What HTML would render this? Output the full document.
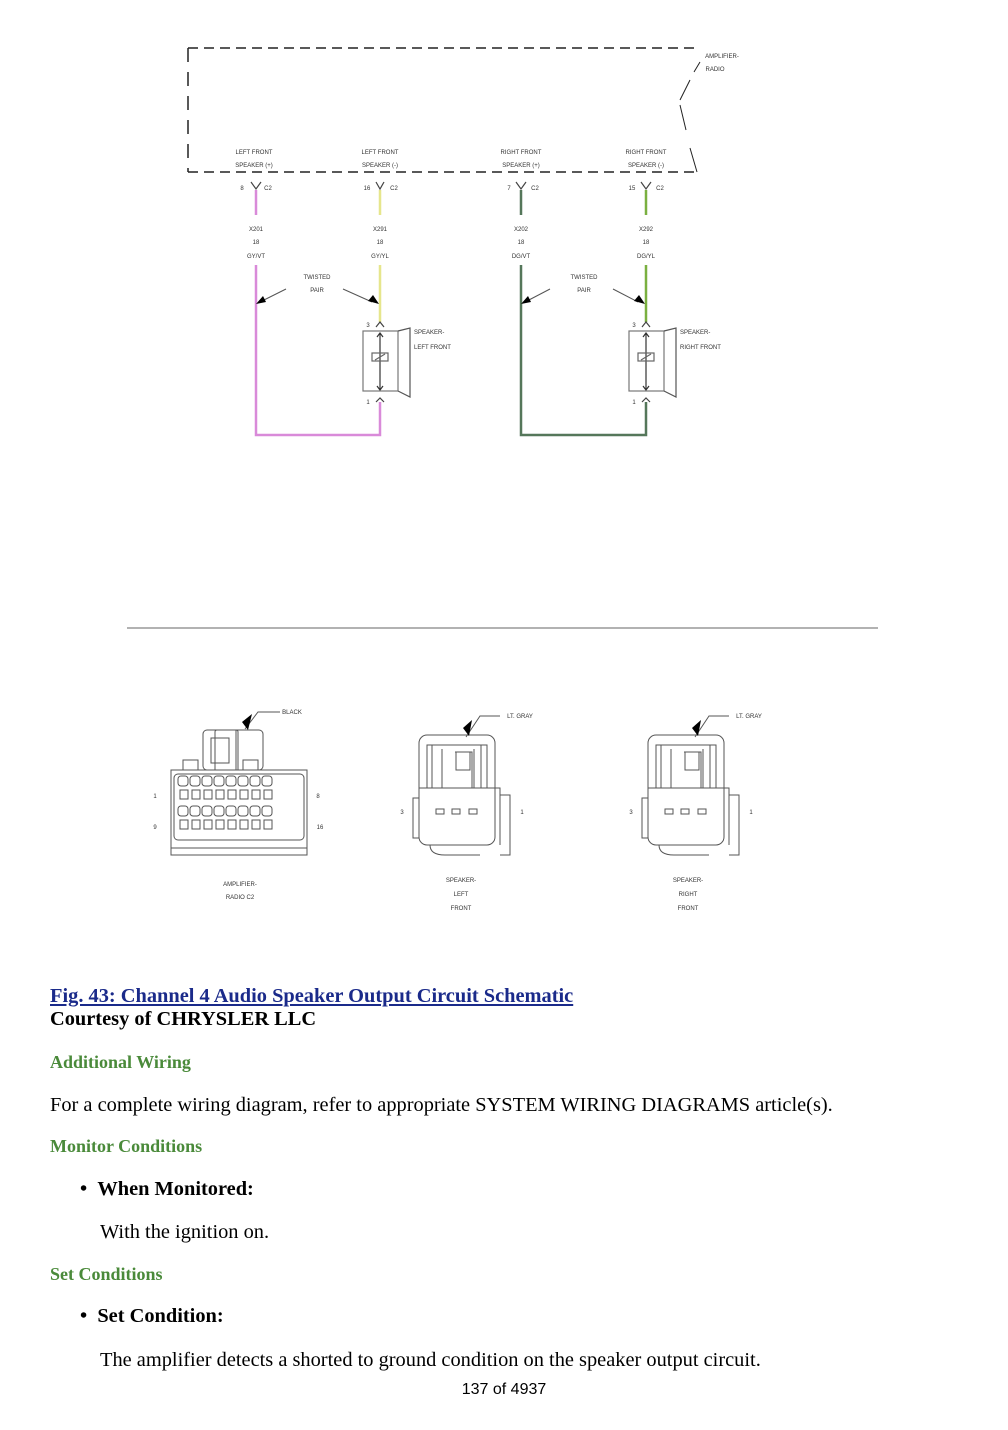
<!DOCTYPE html>
<html><head><meta charset="utf-8"><style>
body{margin:0;background:#fff;width:1008px;height:1430px;overflow:hidden;position:relative;font-family:"Liberation Serif",serif;}
.t{position:absolute;left:50px;font-size:20.4px;color:#000;white-space:nowrap}
.h{position:absolute;left:50px;font-size:18px;font-weight:bold;color:#4a8a3a}
</style></head><body>
<svg width="1008" height="960" style="position:absolute;left:0;top:0" font-family="Liberation Sans, sans-serif">
<g fill="none" stroke="#222" stroke-width="1.5">
<path d="M188 48H695" stroke-dasharray="10 6"/>
<path d="M188 48V172" stroke-dasharray="14 10"/>
<path d="M188 172H697" stroke-dasharray="10 6"/>
<path d="M697 172L690 148M686 130L680 105M680 100L690 80M694 72L700 62" stroke-width="1"/>
</g>
<g font-size="6" fill="#333" text-anchor="middle">
<text x="722" y="58">AMPLIFIER-</text><text x="715" y="71">RADIO</text>
<text x="254" y="154">LEFT FRONT</text><text x="254" y="167">SPEAKER (+)</text>
<text x="380" y="154">LEFT FRONT</text><text x="380" y="167">SPEAKER (-)</text>
<text x="521" y="154">RIGHT FRONT</text><text x="521" y="167">SPEAKER (+)</text>
<text x="646" y="154">RIGHT FRONT</text><text x="646" y="167">SPEAKER (-)</text>
<text x="317" y="279">TWISTED</text><text x="317" y="292">PAIR</text>
<text x="584" y="279">TWISTED</text><text x="584" y="292">PAIR</text>
</g>
<g fill="none" stroke-width="2.5">
<path d="M256 190V215M256 265V435H380V402" stroke="#d98ad9"/>
<path d="M380 190V215M380 265V322" stroke="#e6e68c"/>
<path d="M521 190V215M521 265V435H646V402" stroke="#55775a"/>
<path d="M646 190V215M646 265V322" stroke="#7ab040"/>
</g>
<g font-size="6" fill="#333" text-anchor="middle">
<text x="256" y="231">X201</text><text x="256" y="244">18</text><text x="256" y="258">GY/VT</text>
<text x="380" y="231">X291</text><text x="380" y="244">18</text><text x="380" y="258">GY/YL</text>
<text x="521" y="231">X202</text><text x="521" y="244">18</text><text x="521" y="258">DG/VT</text>
<text x="646" y="231">X292</text><text x="646" y="244">18</text><text x="646" y="258">DG/YL</text>
<text x="242" y="190">8</text><text x="268" y="190">C2</text>
<text x="367" y="190">16</text><text x="394" y="190">C2</text>
<text x="509" y="190">7</text><text x="535" y="190">C2</text>
<text x="632" y="190">15</text><text x="660" y="190">C2</text>
<text x="368" y="327">3</text><text x="368" y="404">1</text>
<text x="634" y="327">3</text><text x="634" y="404">1</text>
</g>
<g fill="none" stroke="#444" stroke-width="1.2">
<path d="M251 182L256 189L261 182M376 182L380 189L384 182M516 182L521 189L526 182M641 182L646 189L651 182"/>
<path d="M376 327L380 322L384 327M376 402L380 398L384 402M642 327L646 322L650 327M642 402L646 398L650 402"/>
<rect x="363" y="331" width="35" height="60" stroke="#777"/>
<path d="M398 331L410 328V397L398 391" stroke="#555"/>
<path d="M380 333V390M377 337L380 333L383 337M377 386L380 390L383 386" stroke="#333"/>
<rect x="372" y="353" width="16" height="8" stroke="#666"/>
<path d="M375 360L385 354" stroke="#666"/>
<rect x="629" y="331" width="35" height="60" stroke="#777"/>
<path d="M664 331L676 328V397L664 391" stroke="#555"/>
<path d="M646 333V390M643 337L646 333L649 337M643 386L646 390L649 386" stroke="#333"/>
<rect x="638" y="353" width="16" height="8" stroke="#666"/>
<path d="M641 360L651 354" stroke="#666"/>
<path d="M286 289L262 301M343 289L372 302M550 289L527 301M613 289L638 302" stroke="#555" stroke-width="1"/>
</g>
<g fill="#000">
<path d="M256 304L263 296L266 302Z"/><path d="M379 304L368 301L373 295Z"/>
<path d="M521 304L528 296L531 302Z"/><path d="M645 304L634 301L639 295Z"/>
</g>
<g font-size="6" fill="#333">
<text x="414" y="334">SPEAKER-</text><text x="414" y="349">LEFT FRONT</text>
<text x="680" y="334">SPEAKER-</text><text x="680" y="349">RIGHT FRONT</text>
</g>
<line x1="127" y1="628" x2="878" y2="628" stroke="#999" stroke-width="1.5"/>
<g fill="none" stroke="#555" stroke-width="1">
<rect x="171" y="770" width="136" height="85"/>
<path d="M171 848H307"/>
<path d="M215 770V732Q215 730 217 730H236V770" /><path d="M216 730H236Q238 730 238 732V770"/>
<rect x="203" y="730" width="60" height="40" rx="4"/>
<rect x="211" y="738" width="18" height="25"/>
<rect x="183" y="760" width="15" height="10"/><rect x="243" y="760" width="15" height="10"/>
<rect x="174" y="774" width="130" height="66" rx="4"/>
<g id="pins">
<rect x="178" y="776" width="10" height="10" rx="3"/><rect x="180" y="790" width="8" height="9"/>
</g>
<use href="#pins" x="12"/><use href="#pins" x="24"/><use href="#pins" x="36"/><use href="#pins" x="48"/><use href="#pins" x="60"/><use href="#pins" x="72"/><use href="#pins" x="84"/>
<use href="#pins" y="30"/><use href="#pins" x="12" y="30"/><use href="#pins" x="24" y="30"/><use href="#pins" x="36" y="30"/><use href="#pins" x="48" y="30"/><use href="#pins" x="60" y="30"/><use href="#pins" x="72" y="30"/><use href="#pins" x="84" y="30"/>
<path d="M245 729L258 712H280"/>
<g id="sp">
<rect x="419" y="735" width="76" height="110" rx="8"/>
<path d="M419 788H500V845M427 788V745H487V788M432 745V788M481 745V788M455 752H472V788M442 749V788M474 749V788"/>
<rect x="456" y="752" width="14" height="18"/>
<rect x="436" y="809" width="8" height="5"/><rect x="452" y="809" width="8" height="5"/><rect x="469" y="809" width="8" height="5"/>
<path d="M413 798H419V838H413ZM500 795H510V855H500M430 845Q430 855 445 855H480"/>
<path d="M466 737L480 716H500"/>
</g>
<use href="#sp" x="229"/>
</g>
<g fill="#000"><path d="M242 722L252 714L248 730Z"/><path d="M463 728L472 720L469 736Z"/><path d="M692 728L701 720L698 736Z"/></g>
<g font-size="6" fill="#333" text-anchor="middle">
<text x="292" y="714">BLACK</text><text x="520" y="718">LT. GRAY</text><text x="749" y="718">LT. GRAY</text>
<text x="155" y="798">1</text><text x="155" y="829">9</text><text x="318" y="798">8</text><text x="320" y="829">16</text>
<text x="402" y="814">3</text><text x="522" y="814">1</text><text x="631" y="814">3</text><text x="751" y="814">1</text>
<text x="240" y="886">AMPLIFIER-</text><text x="240" y="899">RADIO C2</text>
<text x="461" y="882">SPEAKER-</text><text x="461" y="896">LEFT</text><text x="461" y="910">FRONT</text>
<text x="688" y="882">SPEAKER-</text><text x="688" y="896">RIGHT</text><text x="688" y="910">FRONT</text>
<text x="860" y="965" font-size="5">02557665</text>
</g>
</svg>
<div class="t" style="top:985px;font-weight:bold;color:#1a2a8a;text-decoration:underline">Fig. 43: Channel 4 Audio Speaker Output Circuit Schematic</div>
<div class="t" style="top:1008px;font-weight:bold">Courtesy of CHRYSLER LLC</div>
<div class="h" style="top:1052px">Additional Wiring</div>
<div class="t" style="top:1094px">For a complete wiring diagram, refer to appropriate SYSTEM WIRING DIAGRAMS article(s).</div>
<div class="h" style="top:1136px">Monitor Conditions</div>
<div class="t" style="top:1178px;left:80px;font-weight:bold">•&nbsp;&nbsp;When Monitored:</div>
<div class="t" style="top:1221px;left:100px">With the ignition on.</div>
<div class="h" style="top:1264px">Set Conditions</div>
<div class="t" style="top:1305px;left:80px;font-weight:bold">•&nbsp;&nbsp;Set Condition:</div>
<div class="t" style="top:1349px;left:100px">The amplifier detects a shorted to ground condition on the speaker output circuit.</div>
<div style="position:absolute;top:1381px;left:0;width:1008px;text-align:center;font-family:'Liberation Sans',sans-serif;font-size:16px">137 of 4937</div>
</body></html>
